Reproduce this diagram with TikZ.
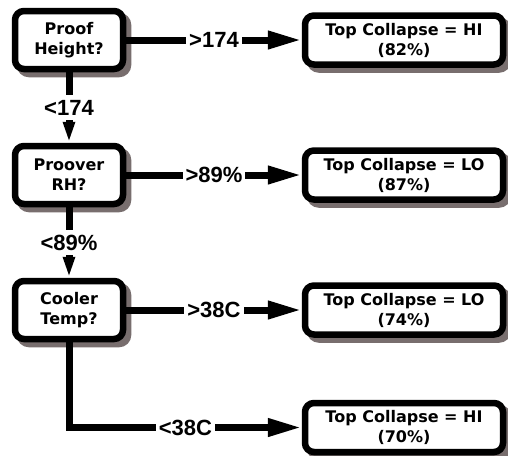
\documentclass[tikz,border=0pt]{standalone}
\usepackage{fontspec}
\setmainfont{DejaVu Sans}
\newfontfamily\labfont{Liberation Sans}
\usetikzlibrary{arrows.meta}
\definecolor{shcol}{RGB}{120,110,110}
\tikzset{
  box/.style={draw=black, fill=white, line width=6.5pt, rounded corners=9pt,
    align=center, inner sep=0pt,
    font=\bfseries\fontsize{16}{20}\selectfont},
  shad/.style={draw=shcol, fill=shcol},
  qbox/.style={box, minimum width=108pt, minimum height=58pt},
  rbox/.style={box, minimum width=198pt, minimum height=49pt},
  conn/.style={line width=7pt},
  harr/.style={conn, -{Triangle[length=34pt,width=17pt]}},
  varr/.style={conn, -{Triangle[length=21pt,width=11pt]}},
  lab/.style={fill=white, inner xsep=3pt, inner ysep=5pt,
    font=\labfont\bfseries\fontsize{22}{24}\selectfont},
}
\begin{document}
\begin{tikzpicture}[x=1pt,y=-1pt]
\fill[white] (0,0) rectangle (508,455);
\useasboundingbox (0,0) rectangle (508,455);
% shadows
\node[qbox, shad] (q1s) at (74,45) {};
\node[qbox, shad] (q2s) at (74,180) {};
\node[qbox, shad] (q3s) at (74,315) {};
\node[rbox, shad] (r1s) at (409,45) {};
\node[rbox, shad] (r2s) at (409,180) {};
\node[rbox, shad] (r3s) at (409,315) {};
\node[rbox, shad] (r4s) at (409,432.5) {};
% boxes
\node[qbox] (q1) at (69,40) {Proof\\Height?};
\node[qbox] (q2) at (69,175) {Proover\\RH?};
\node[qbox] (q3) at (69,310) {Cooler\\Temp?};
\node[rbox] (r1) at (404,40) {Top Collapse = HI\\(82\%)};
\node[rbox] (r2) at (404,175) {Top Collapse = LO\\(87\%)};
\node[rbox] (r3) at (404,310) {Top Collapse = LO\\(74\%)};
\node[rbox] (r4) at (404,427.5) {Top Collapse = HI\\(70\%)};
\draw[harr] (q1.east) -- node[lab] {>174} (r1.west);
\draw[harr] (q2.east) -- node[lab] {>89\%} (r2.west);
\draw[harr] (q3.east) -- node[lab] {>38C} (r3.west);
\draw[varr] (q1.south) -- node[lab] {<174} (q2.north);
\draw[varr] (q2.south) -- node[lab] {<89\%} (q3.north);
\draw[harr] (q3.south) |- node[lab, pos=0.75] {<38C} (r4.west);
\end{tikzpicture}
\end{document}
